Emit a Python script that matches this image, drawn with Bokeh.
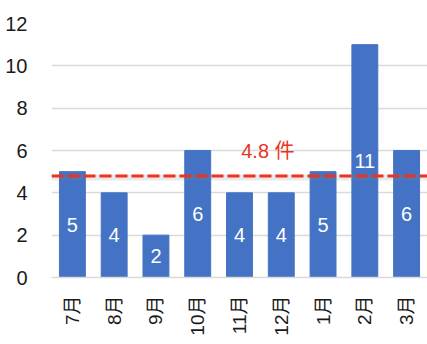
from math import pi
from bokeh.plotting import figure
from bokeh.models import ColumnDataSource, Span, FixedTicker, LabelSet, Label, Range1d
from bokeh.core.properties import value
from bokeh.embed import file_html
from bokeh.resources import INLINE

# ---- data ----
months = ["7月", "8月", "9月", "10月", "11月", "12月", "1月", "2月", "3月"]
counts = [5, 4, 2, 6, 4, 4, 5, 11, 6]
avg_value = 4.8
avg_text = "4.8 件"
y_ticks = [0, 2, 4, 6, 8, 10, 12]

FONT = "Liberation Sans, Noto Sans CJK JP"
BAR = "#4472c4"
RED = "#ea3323"
GRID = "#dadada"

src = ColumnDataSource(dict(
    x=months,
    top=counts,
    mid=[c / 2 for c in counts],
    lab=[str(c) for c in counts],
))

p = figure(x_range=months, y_range=Range1d(0, 12), width=427, height=344,
           output_backend="svg", toolbar_location=None,
           min_border_left=51, min_border_right=0, min_border_top=23,
           min_border_bottom=67)
p.outline_line_color = None
p.background_fill_color = "white"
p.border_fill_color = "white"

p.xgrid.grid_line_color = None
p.ygrid.grid_line_color = GRID
p.ygrid.grid_line_width = 1.5
p.yaxis.ticker = FixedTicker(ticks=y_ticks)

p.yaxis.axis_line_color = None
p.yaxis.major_tick_line_color = None
p.yaxis.minor_tick_line_color = None
p.yaxis.major_label_standoff = 18
p.yaxis.major_label_text_font = FONT
p.yaxis.major_label_text_font_size = "20px"
p.yaxis.major_label_text_color = "#1a1a1a"

p.xaxis.axis_line_color = GRID
p.xaxis.axis_line_width = 1.5
p.xaxis.major_tick_line_color = None
p.xaxis.minor_tick_line_color = None
p.xaxis.major_label_orientation = pi / 2
p.xaxis.major_label_standoff = 12
p.xaxis.major_label_text_font = FONT
p.xaxis.major_label_text_font_size = "19px"
p.xaxis.major_label_text_color = "#1a1a1a"

p.vbar(x="x", top="top", width=0.62, source=src, fill_color=BAR, line_color=BAR)

shadow = Span(location=avg_value - 0.07, dimension="width", line_color="#888888",
              line_alpha=0.18, line_width=6)
p.add_layout(shadow)
avg_line = Span(location=avg_value, dimension="width", line_color=RED,
                line_width=3, line_dash="12 4")
p.add_layout(avg_line)

labels = LabelSet(x="x", y="mid", text="lab", source=src, text_align="center",
                  text_baseline="middle", text_color="white",
                  text_font=value(FONT), text_font_size=value("20px"))
p.add_layout(labels)

avg_label = Label(x=5.18, y=6.0, text=avg_text, text_align="center",
                  text_baseline="middle", text_color=RED,
                  text_font=FONT, text_font_size="20px")
p.add_layout(avg_label)

open("out.html", "w").write(file_html(p, INLINE))
